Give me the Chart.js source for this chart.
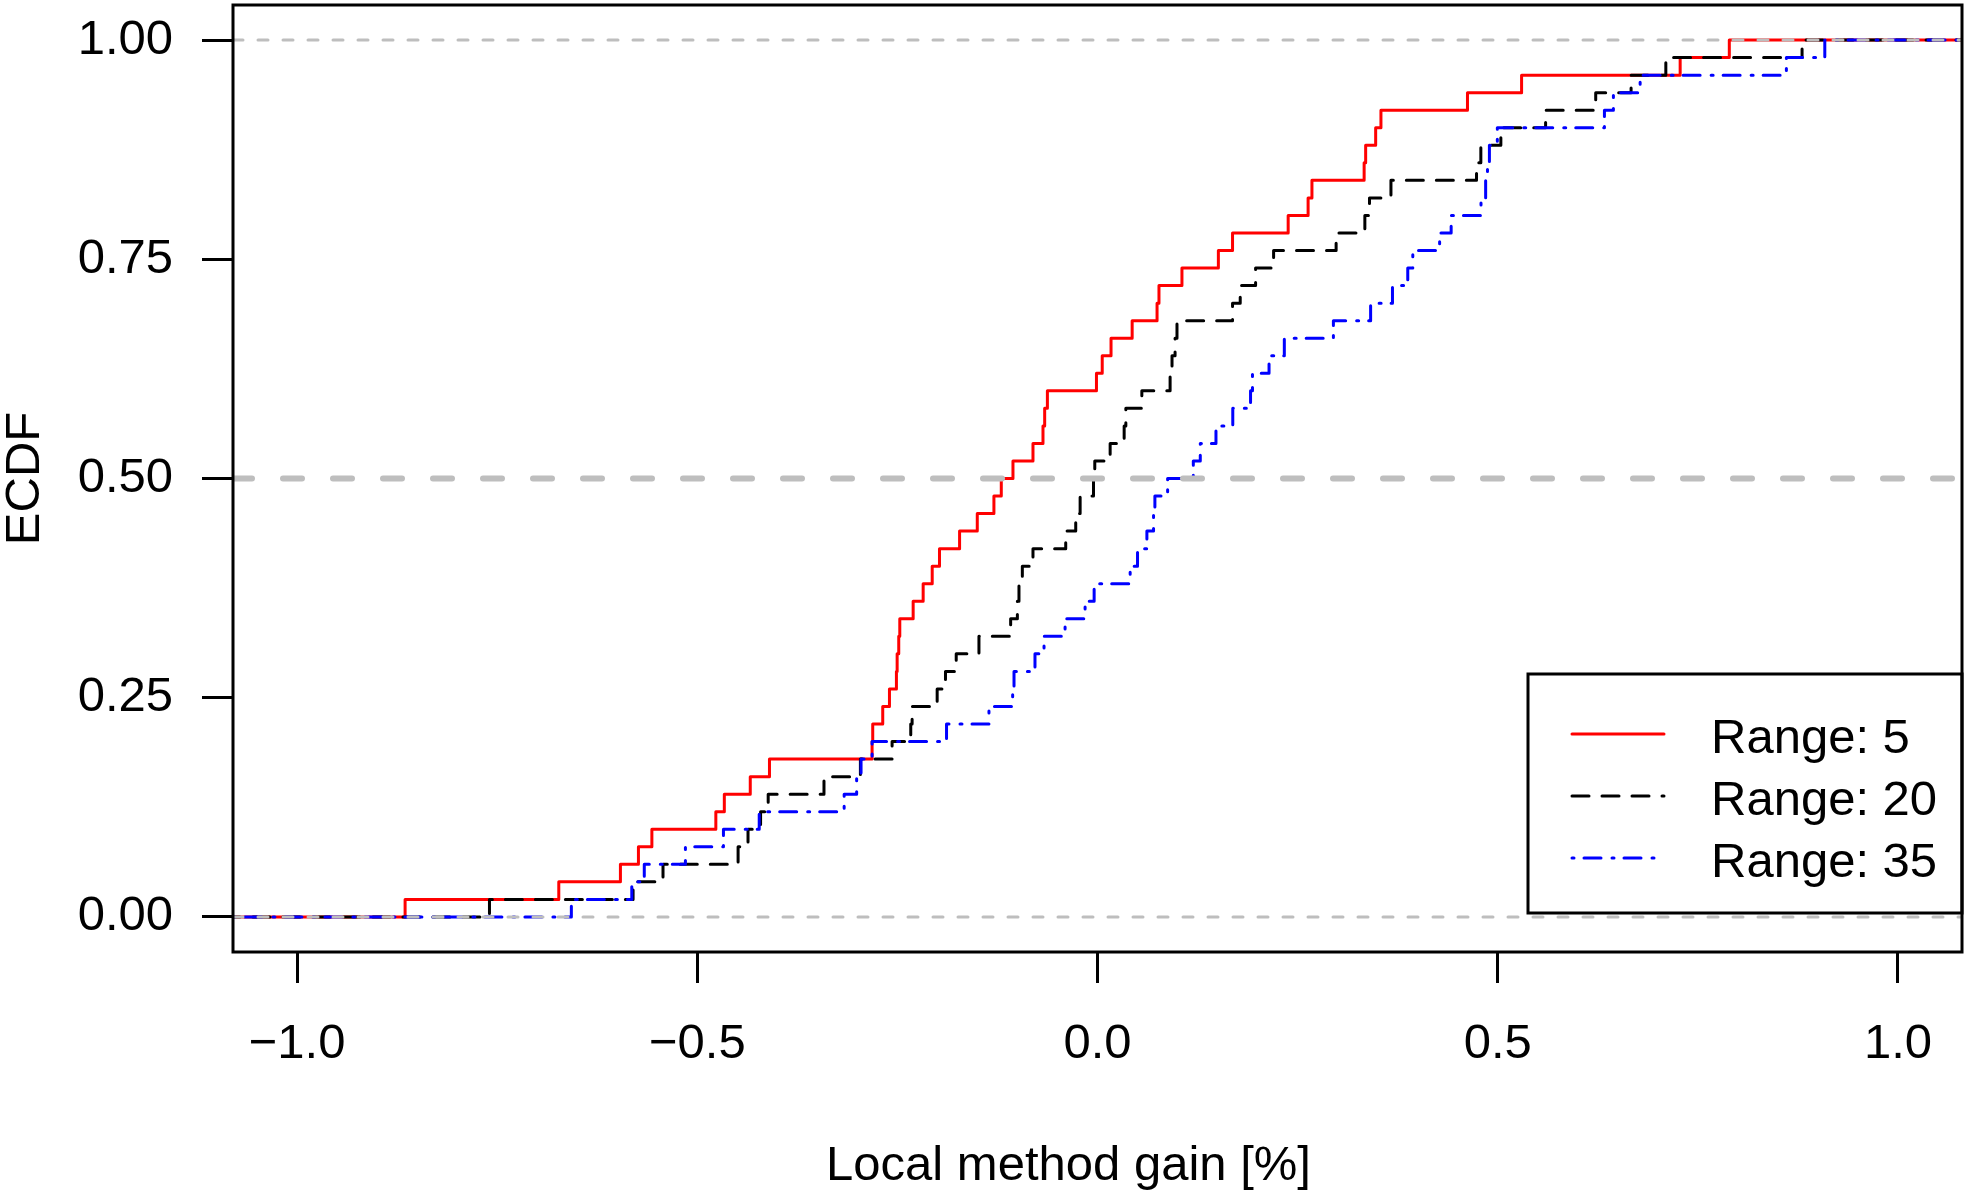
<!DOCTYPE html>
<html>
<head>
<meta charset="utf-8">
<script src="https://cdn.jsdelivr.net/npm/chart.js@4.4.0/dist/chart.umd.min.js"></script>
<style>
html,body{margin:0;padding:0;background:#ffffff;}
canvas{display:block;}
</style>
</head>
<body>
<canvas id="c" width="1967" height="1196" style="width:1967px;height:1196px"></canvas>
<script>
// ---------------- data ----------------
const seriesNames = ['Range: 5', 'Range: 20', 'Range: 35'];

// sorted sample values (jump locations of each ECDF), 50 per series
const range5 = [
  -0.865, -0.673, -0.596, -0.5735, -0.5567, -0.4768, -0.4662, -0.4338, -0.4098, -0.2816,
  -0.2808, -0.2683, -0.2599, -0.2512, -0.2503, -0.2483, -0.247, -0.2303, -0.2178, -0.2065,
  -0.1974, -0.1723, -0.1502, -0.1294, -0.1202, -0.1056, -0.0806, -0.0681, -0.066, -0.0626,
  -0.0013, 0.0059, 0.0169, 0.0433, 0.0744, 0.0768, 0.1055, 0.151, 0.1687, 0.2382,
  0.2631, 0.2679, 0.3331, 0.335, 0.3475, 0.3541, 0.4622, 0.5298, 0.7279, 0.7893
];
const range20 = [
  -0.7596, -0.5802, -0.5428, -0.449, -0.4366, -0.4209, -0.4114, -0.3417, -0.2962, -0.2566,
  -0.2333, -0.2316, -0.2003, -0.1899, -0.1765, -0.1481, -0.1085, -0.1001, -0.0981, -0.0939,
  -0.0806, -0.0397, -0.0272, -0.0217, -0.005, -0.0034, 0.0158, 0.0333, 0.0354, 0.0554,
  0.0907, 0.0931, 0.0969, 0.0993, 0.1687, 0.1783, 0.1975, 0.22, 0.2981, 0.334,
  0.3398, 0.3666, 0.4735, 0.4789, 0.5039, 0.5598, 0.6224, 0.6666, 0.71, 0.8802
];
const range35 = [
  -0.6573, -0.5818, -0.5662, -0.5148, -0.4673, -0.4226, -0.3165, -0.3009, -0.2954, -0.2816,
  -0.1886, -0.1356, -0.106, -0.1043, -0.0781, -0.0668, -0.0405, -0.0155, -0.0042, 0.0408,
  0.05, 0.0617, 0.07, 0.0717, 0.0876, 0.1197, 0.1284, 0.148, 0.169, 0.1912,
  0.1936, 0.2143, 0.2334, 0.2947, 0.3412, 0.3685, 0.3876, 0.3939, 0.4274, 0.4418,
  0.4791, 0.4849, 0.4872, 0.4896, 0.4995, 0.6333, 0.6445, 0.6779, 0.8606, 0.9086
];

const xTickValues = [-1, -0.5, 0, 0.5, 1];
const xTickLabels = ['\u22121.0', '\u22120.5', '0.0', '0.5', '1.0'];
const yTickValues = [0, 0.25, 0.5, 0.75, 1];
const yTickLabels = ['0.00', '0.25', '0.50', '0.75', '1.00'];
const refLevels = [0, 0.5, 1];
const xLimits = [-1.08, 1.08];
const yLimits = [-0.04, 1.04];
const xTitle = 'Local method gain [%]';
const yTitle = 'ECDF';

// ---------------- styles ----------------
const FONT = '"Liberation Sans", Arial, Helvetica, sans-serif';
const FS = 49;
const seriesStyles = [
  { color: '#FF0000', dash: [] },
  { color: '#000000', dash: [17, 13] },
  { color: '#0000FF', dash: [2, 10, 17, 11] }
];

function ecdfPoints(sample) {
  const s = sample.slice().sort((a, b) => a - b);
  const n = s.length;
  const pts = [{ x: xLimits[0] - 0.2, y: 0 }];
  s.forEach((v, i) => pts.push({ x: v, y: (i + 1) / n }));
  pts.push({ x: xLimits[1] + 0.2, y: 1 });
  return pts;
}

const samples = [range5, range20, range35];
const datasets = [];
refLevels.forEach(lvl => {
  datasets.push({
    label: 'ref' + lvl,
    data: [{ x: xLimits[0], y: lvl }, { x: xLimits[1], y: lvl }],
    borderColor: '#BEBEBE',
    borderWidth: lvl === 0.5 ? 6 : 3,
    borderDash: lvl === 0.5 ? [19, 31] : [10, 15],
    borderCapStyle: 'round',
    pointRadius: 0,
    fill: false,
    order: 0
  });
});
samples.forEach((s, i) => {
  datasets.push({
    label: seriesNames[i],
    data: ecdfPoints(s),
    stepped: 'before',
    borderColor: seriesStyles[i].color,
    borderWidth: 3,
    borderDash: seriesStyles[i].dash,
    borderCapStyle: 'round',
    borderJoinStyle: 'round',
    pointRadius: 0,
    fill: false,
    order: 3 - i
  });
});

const framePlugin = {
  id: 'frameLegend',
  afterDraw(chart) {
    const ctx = chart.ctx;
    const a = chart.chartArea;
    ctx.save();
    // plot box
    ctx.strokeStyle = '#000';
    ctx.lineWidth = 3;
    ctx.setLineDash([]);
    ctx.strokeRect(a.left, a.top, a.right - a.left, a.bottom - a.top);

    // legend box
    const lx0 = 1528, ly0 = 674, lx1 = a.right, ly1 = 913;
    ctx.strokeRect(lx0, ly0, lx1 - lx0, ly1 - ly0);
    const rows = [734, 796, 858];
    ctx.font = FS + 'px ' + FONT;
    ctx.textAlign = 'left';
    ctx.textBaseline = 'alphabetic';
    seriesNames.forEach((name, i) => {
      const y = rows[i];
      ctx.beginPath();
      ctx.strokeStyle = seriesStyles[i].color;
      ctx.lineWidth = 3;
      ctx.lineCap = 'round';
      ctx.setLineDash(seriesStyles[i].dash);
      ctx.moveTo(1572, y);
      ctx.lineTo(1664, y);
      ctx.stroke();
      ctx.setLineDash([]);
      ctx.fillStyle = '#000';
      ctx.fillText(name, 1711, y + 19);
    });

    // x axis title
    ctx.textAlign = 'center';
    ctx.fillStyle = '#000';
    ctx.fillText(xTitle, 1068.5, 1180);
    ctx.restore();
  }
};

new Chart(document.getElementById('c').getContext('2d'), {
  type: 'line',
  data: { datasets: datasets },
  options: {
    responsive: false,
    animation: false,
    devicePixelRatio: 1,
    layout: { padding: { top: 5, right: 5, left: 0, bottom: 0 } },
    scales: {
      x: {
        type: 'linear',
        position: 'bottom',
        min: xLimits[0],
        max: xLimits[1],
        afterFit(s) { s.height = 244; s.paddingLeft = 0; s.paddingRight = 0; s.paddingTop = 0; s.paddingBottom = 0; },
        afterBuildTicks(s) { s.ticks = xTickValues.map(v => ({ value: v })); },
        ticks: {
          callback: (v, i) => xTickLabels[i],
          color: '#000',
          font: { family: FONT, size: FS },
          padding: 32,
          autoSkip: false,
          maxRotation: 0,
          minRotation: 0
        },
        grid: { drawOnChartArea: false, drawTicks: true, tickLength: 31, color: '#000', lineWidth: 3 },
        border: { display: false }
      },
      y: {
        type: 'linear',
        position: 'left',
        min: yLimits[0],
        max: yLimits[1],
        afterFit(s) { s.width = 233; s.paddingTop = 0; s.paddingBottom = 0; s.paddingLeft = 0; s.paddingRight = 0; },
        afterBuildTicks(s) { s.ticks = yTickValues.map(v => ({ value: v })); },
        ticks: {
          callback: (v, i) => yTickLabels[i],
          color: '#000',
          font: { family: FONT, size: FS },
          padding: 29,
          autoSkip: false
        },
        grid: { drawOnChartArea: false, drawTicks: true, tickLength: 31, color: '#000', lineWidth: 3 },
        border: { display: false },
        title: {
          display: true,
          text: yTitle,
          color: '#000',
          font: { family: FONT, size: FS, lineHeight: 1 },
          padding: { top: 1, bottom: 0 }
        }
      }
    },
    plugins: {
      legend: { display: false },
      tooltip: { enabled: false }
    }
  },
  plugins: [framePlugin]
});
</script>
</body>
</html>
